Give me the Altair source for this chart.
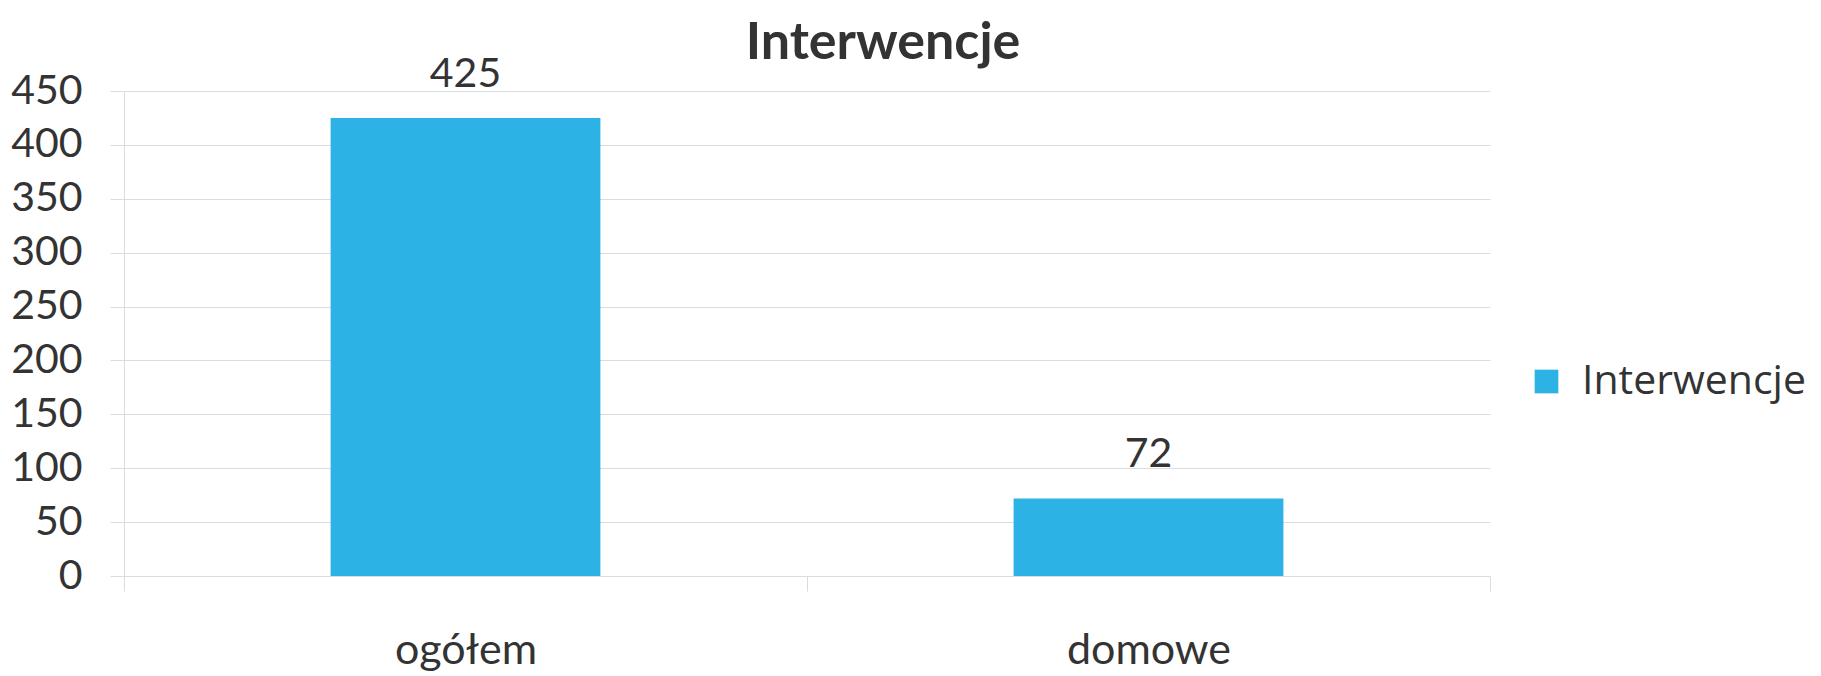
import altair as alt
import pandas as pd

categories = ["ogółem", "domowe"]
values = [425, 72]
series = ["Interwencje", "Interwencje"]
y_ticks = [0, 50, 100, 150, 200, 250, 300, 350, 400, 450]

BLUE = "#2cb2e5"
GRID = "#d9dde0"
TEXT = "#333333"

df = pd.DataFrame({"kategoria": categories, "wartosc": values, "seria": series})

base = alt.Chart(df).encode(
    x=alt.X(
        "kategoria:N",
        sort=categories,
        title=None,
        scale=alt.Scale(paddingInner=0, paddingOuter=0),
        axis=alt.Axis(
            labelAngle=0,
            tickBand="extent",
            tickSize=15,
            tickColor=GRID,
            domainColor=GRID,
            labelPadding=38,
            labelFontSize=43,
            labelFont="Lato",
            labelColor=TEXT,
            grid=False,
        ),
    ),
    y=alt.Y(
        "wartosc:Q",
        title=None,
        scale=alt.Scale(domain=[0, 450], nice=False),
        axis=alt.Axis(
            values=y_ticks,
            tickSize=14,
            tickColor=GRID,
            domainColor=GRID,
            gridColor=GRID,
            labelPadding=28,
            labelFontSize=41,
            labelFont="Lato",
            labelColor=TEXT,
            minExtent=116,
            maxExtent=116,
        ),
    ),
)

bars = base.mark_bar(color=BLUE, width=alt.RelativeBandSize(0.395)).encode(
    color=alt.Color(
        "seria:N",
        scale=alt.Scale(range=[BLUE]),
        legend=alt.Legend(
            title=None,
            orient="none",
            legendX=1402,
            legendY=270,
            symbolType="square",
            symbolSize=560,
            symbolStrokeWidth=0,
            labelFontSize=41,
            labelFont="Open Sans",
            labelColor=TEXT,
            labelOffset=15,
            labelLimit=500,
        ),
    )
)

labels = base.mark_text(
    baseline="bottom", dy=-22, fontSize=41, font="Lato", color=TEXT
).encode(text="wartosc:Q")

chart = (
    alt.layer(bars, labels)
    .properties(
        width=1366,
        height=485,
        padding={"left": 0, "top": 8, "right": 0, "bottom": 10},
        title=alt.TitleParams(
            "Interwencje",
            fontSize=52,
            font="Lato",
            fontWeight="bold",
            color=TEXT,
            anchor="middle",
            dx=76,
            offset=-16,
        ),
    )
    .configure_view(stroke=None)
)

chart.save("out.html", embed_options={"renderer": "svg", "actions": False})
